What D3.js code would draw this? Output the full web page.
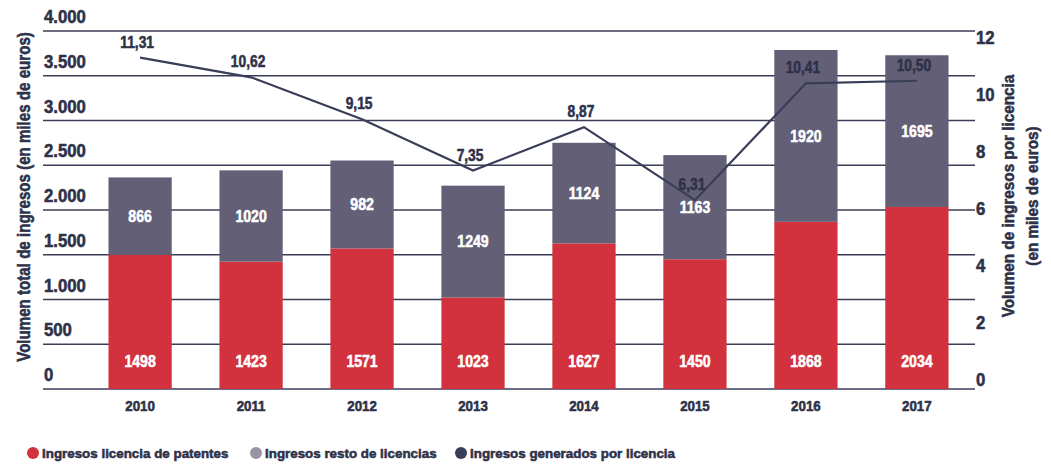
<!DOCTYPE html>
<html>
<head>
<meta charset="utf-8">
<script src="https://cdn.jsdelivr.net/npm/d3@7"></script>
<style>
  body { margin: 0; background: #fff; }
  svg text { font-family: "Liberation Sans", Arial, sans-serif; font-weight: bold; }
</style>
</head>
<body>
<svg id="chart" width="1051" height="464"></svg>
<script>
// data
var years = ["2010", "2011", "2012", "2013", "2014", "2015", "2016", "2017"];
var patentes = [1498, 1423, 1571, 1023, 1627, 1450, 1868, 2034];
var resto = [866, 1020, 982, 1249, 1124, 1163, 1920, 1695];
var porLicencia = [11.31, 10.62, 9.15, 7.35, 8.87, 6.31, 10.41, 10.50];
var leftTicks = [0, 500, 1000, 1500, 2000, 2500, 3000, 3500, 4000];
var rightTicks = [0, 2, 4, 6, 8, 10, 12];
var legendNames = ["Ingresos licencia de patentes", "Ingresos resto de licencias", "Ingresos generados por licencia"];

var RED = "#d1323d";
var GREY = "#625f77";
var NAVY = "#3a3d58";
var TEXT = "#2e3148";

var svg = d3.select("#chart");

var x = d3.scaleBand()
    .domain(years)
    .range([53, 1004])
    .paddingInner(0.43)
    .paddingOuter(0.5);

var yL = d3.scaleLinear().domain([0, 4000]).range([389, 31]);
var yR = d3.scaleLinear().domain([0, 12]).range([380, 38]);

var fmt = d3.format(",");
function esNum(v) {
    // spanish thousands separator
    return fmt(v).replace(",", ".");
}

// squeeze text horizontally so it reads like a condensed heavy face
function condense(sel, k, color) {
    sel.attr("stroke", color)
        .attr("stroke-width", 0.55)
        .attr("stroke-linejoin", "round")
        .each(function () {
            var spans = this.querySelectorAll("tspan");
            var nodes = spans.length ? Array.from(spans) : [this];
            nodes.forEach(function (n) {
                var w = n.getComputedTextLength();
                n.setAttribute("textLength", w * k);
                n.setAttribute("lengthAdjust", "spacingAndGlyphs");
            });
        });
}

// gridlines (behind bars)
svg.append("g")
    .selectAll("line")
    .data(leftTicks)
    .enter()
    .append("line")
    .attr("x1", 43)
    .attr("x2", 975)
    .attr("y1", function (d) { return yL(d); })
    .attr("y2", function (d) { return yL(d); })
    .attr("stroke", NAVY)
    .attr("stroke-width", 1.6);

// left tick labels, sitting above their gridline
svg.append("g")
    .selectAll("text")
    .data(leftTicks)
    .enter()
    .append("text")
    .attr("x", 44)
    .attr("y", function (d) { return yL(d) - 8; })
    .attr("fill", TEXT)
    .style("font-size", "18px")
    .text(function (d) { return esNum(d); })
    .call(condense, 0.93, TEXT);

// right tick labels
svg.append("g")
    .selectAll("text")
    .data(rightTicks)
    .enter()
    .append("text")
    .attr("x", 976)
    .attr("y", function (d) { return yR(d); })
    .attr("dy", "0.36em")
    .attr("fill", TEXT)
    .style("font-size", "18px")
    .text(function (d) { return d; })
    .call(condense, 0.93, TEXT);

// stacked bars
var bars = svg.append("g")
    .selectAll("g")
    .data(years)
    .enter()
    .append("g");

bars.append("rect")
    .attr("x", function (d) { return x(d); })
    .attr("width", x.bandwidth())
    .attr("y", function (d, i) { return yL(patentes[i]); })
    .attr("height", function (d, i) { return yL(0) - yL(patentes[i]); })
    .attr("fill", RED);

bars.append("rect")
    .attr("x", function (d) { return x(d); })
    .attr("width", x.bandwidth())
    .attr("y", function (d, i) { return yL(patentes[i] + resto[i]); })
    .attr("height", function (d, i) { return yL(patentes[i]) - yL(patentes[i] + resto[i]); })
    .attr("fill", GREY);

bars.append("text")
    .attr("x", function (d) { return x(d) + x.bandwidth() / 2; })
    .attr("y", function (d, i) { return yL(0) - 22; })
    .attr("text-anchor", "middle")
    .attr("fill", "#fff")
    .style("font-size", "16px")
    .text(function (d, i) { return patentes[i]; })
    .call(condense, 0.88, "#fff");

bars.append("text")
    .attr("x", function (d) { return x(d) + x.bandwidth() / 2; })
    .attr("y", function (d, i) { return (yL(patentes[i]) + yL(patentes[i] + resto[i])) / 2; })
    .attr("dy", "0.36em")
    .attr("text-anchor", "middle")
    .attr("fill", "#fff")
    .style("font-size", "16px")
    .text(function (d, i) { return resto[i]; })
    .call(condense, 0.88, "#fff");

// x labels
svg.append("g")
    .selectAll("text")
    .data(years)
    .enter()
    .append("text")
    .attr("x", function (d) { return x(d) + x.bandwidth() / 2; })
    .attr("y", 411)
    .attr("text-anchor", "middle")
    .attr("fill", TEXT)
    .style("font-size", "14px")
    .text(function (d) { return d; })
    .call(condense, 0.95, TEXT);

// line per licence
var line = d3.line()
    .x(function (d, i) { return x(years[i]) + x.bandwidth() / 2; })
    .y(function (d) { return yR(d); });

svg.append("path")
    .datum(porLicencia)
    .attr("d", line)
    .attr("fill", "none")
    .attr("stroke", NAVY)
    .attr("stroke-width", 2.2);

svg.append("g")
    .selectAll("text")
    .data(porLicencia)
    .enter()
    .append("text")
    .attr("x", function (d, i) { return x(years[i]) + x.bandwidth() / 2 - 3; })
    .attr("y", function (d) { return yR(d) - 10; })
    .attr("text-anchor", "middle")
    .attr("fill", TEXT)
    .style("font-size", "16px")
    .text(function (d) { return d.toFixed(2).replace(".", ","); })
    .call(condense, 0.86, TEXT);

// axis titles (squeezed with a transform so their box stays honest)
svg.append("text")
    .attr("transform", "translate(30,197) rotate(-90) scale(0.84,1)")
    .attr("text-anchor", "middle")
    .attr("fill", TEXT)
    .attr("stroke", TEXT)
    .attr("stroke-width", 0.55)
    .style("font-size", "18px")
    .text("Volumen total de ingresos (en miles de euros)");

var rTitle = svg.append("text")
    .attr("transform", "translate(1014,196) rotate(-90) scale(0.9,1)")
    .attr("text-anchor", "middle")
    .attr("fill", TEXT)
    .attr("stroke", TEXT)
    .attr("stroke-width", 0.55)
    .style("font-size", "17px");
rTitle.append("tspan").attr("x", 0).attr("dy", 0).text("Volumen de ingresos por licencia");
rTitle.append("tspan").attr("x", 0).attr("dy", "1.4em").text("(en miles de euros)");

// legend
var legendColors = [RED, "#9896a6", NAVY];
var legendX = [33, 256, 461];
var legend = svg.append("g")
    .selectAll("g")
    .data(legendNames)
    .enter()
    .append("g")
    .attr("transform", function (d, i) { return "translate(" + legendX[i] + ",453)"; });

legend.append("circle")
    .attr("r", 6)
    .attr("fill", function (d, i) { return legendColors[i]; });

legend.append("text")
    .attr("x", 9)
    .attr("dy", "0.36em")
    .attr("fill", TEXT)
    .style("font-size", "13.5px")
    .text(function (d) { return d; })
    .call(condense, 0.99, TEXT);
</script>
</body>
</html>
